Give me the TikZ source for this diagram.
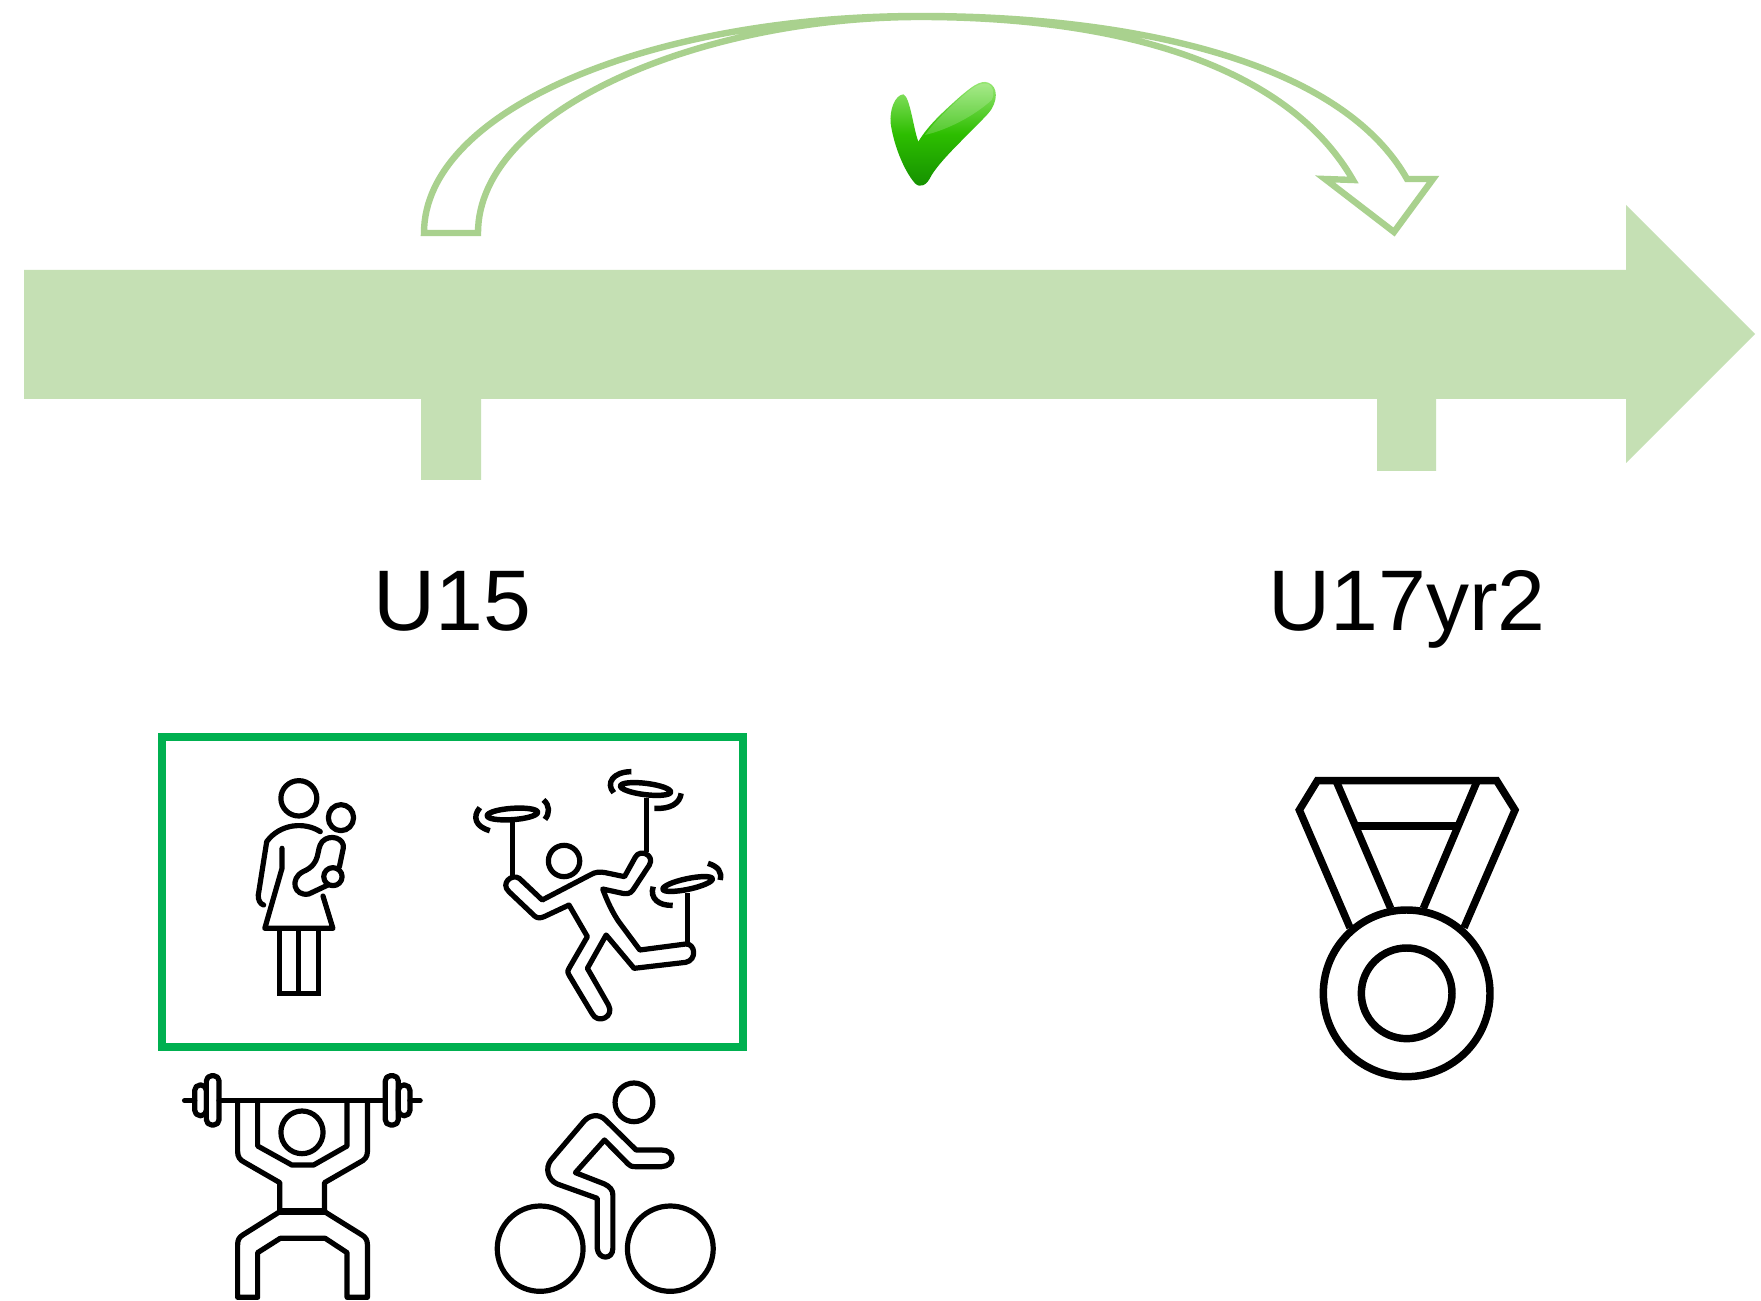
\documentclass[tikz,border=0pt]{standalone}
\usepackage{fontspec}
\setmainfont{Liberation Sans}
\definecolor{barfill}{HTML}{C5E0B4}
\definecolor{arcline}{HTML}{A9D18E}
\definecolor{boxgreen}{HTML}{00B050}
\definecolor{chktop}{HTML}{9BE878}
\definecolor{chkmid}{HTML}{2DBE00}
\definecolor{chkbot}{HTML}{148F00}
\tikzset{
  bar/.style={fill=barfill,draw=none},
  arcarrow/.style={draw=arcline,line width=4.8pt,fill=white,line join=miter},
  label/.style={anchor=base,inner sep=0pt,font=\fontsize{64.5}{70}\selectfont},
  framebox/.style={draw=boxgreen,line width=6pt},
  icon/.style={draw=black,line width=3.9pt,line join=round,line cap=round,fill=none},
  medal/.style={draw=black,line width=5.6pt,line join=miter,fill=none},
  plate/.style={icon,line width=4.1pt}
}
\begin{document}
\begin{tikzpicture}[x=0.75pt,y=-0.75pt]
\useasboundingbox (0,0) rectangle (1761,1301);
\fill[white] (0,0) rectangle (1761,1301);

% timeline arrow with ticks
\path[bar] (24,270) -- (421,270) -- (1626,270) -- (1626,205) -- (1755,334) -- (1626,463) -- (1626,399)
  -- (1436,399) -- (1436,471) -- (1377,471) -- (1377,399)
  -- (481,399) -- (481,480) -- (421,480) -- (421,399) -- (24,399) -- cycle;

% curved arrow
\path[arcarrow] (424,233)
  .. controls (424,110) and (650,16) .. (920,16)
  .. controls (1130,16) and (1340,60) .. (1407,179)
  -- (1433,179) -- (1394,232) -- (1325,179) -- (1353,180)
  .. controls (1290,70) and (1130,17) .. (920,17)
  .. controls (700,17) and (478,110) .. (478,233)
  -- cycle;

% check mark
\begin{scope}[shift={(860,60)},x=0.25pt,y=-0.25pt]
\path[top color=chktop,bottom color=chkbot,middle color=chkmid]
  (130,103) .. controls (105,105) and (88,150) .. (92,190)
  .. controls (100,250) and (130,330) .. (165,370)
  .. controls (180,385) and (200,378) .. (215,345)
  .. controls (250,290) and (330,220) .. (385,160)
  .. controls (415,125) and (415,80) .. (385,68)
  .. controls (360,58) and (330,85) .. (300,110)
  .. controls (250,155) and (205,195) .. (175,245)
  .. controls (160,205) and (150,110) .. (130,103) -- cycle;
\path[fill=white,fill opacity=0.18]
  (385,72) .. controls (355,65) and (330,90) .. (300,115)
  .. controls (255,155) and (220,190) .. (195,225)
  .. controls (260,210) and (340,170) .. (395,120)
  .. controls (405,100) and (400,80) .. (385,72) -- cycle;
\end{scope}

% labels
\node[label] (u15) at (452,631) {U15};
\node[label] (u17) at (1407,631) {U17yr2};

% green frame
\draw[framebox] (161.5,736.5) rectangle (743,1046.5);

% mother and juggler
\begin{scope}[shift={(150,720)},x=0.287pt,y=-0.25pt]
% mother
\draw[icon] (389,235) ellipse [x radius=47,y radius=53];
\draw[icon] (499,293) ellipse [x radius=33,y radius=39];
\draw[icon] (445,335) .. controls (405,305) and (340,310) .. (305,365) -- (283,525) .. controls (282,540) and (288,552) .. (297,555);
\draw[icon] (345,385) -- (345,445) -- (300,625) -- (478,625) -- (452,528);
\draw[icon,line cap=butt,line join=miter] (338,625) -- (338,820) -- (440,820) -- (440,625);
\draw[icon,line cap=butt] (389,625) -- (389,820);
\draw[icon] (495,440) -- (505,385) .. controls (510,355) and (470,340) .. (450,365)
  .. controls (432,390) and (450,430) .. (400,455)
  .. controls (365,475) and (375,530) .. (415,522) -- (465,495);
\draw[icon] (478,470) ellipse [x radius=24,y radius=27];
% juggler plates
\draw[plate,rotate around={4:(947,282)}] (947,282) ellipse [x radius=66,y radius=17];
\draw[plate,rotate around={-7:(1295,207)}] (1295,207) ellipse [x radius=66,y radius=17];
\draw[plate,rotate around={12:(1405,492)}] (1405,492) ellipse [x radius=66,y radius=16];
\draw[plate,line cap=butt] (888,332) .. controls (850,320) and (842,290) .. (862,263);
\draw[plate,line cap=butt] (1028,240) .. controls (1045,255) and (1045,280) .. (1032,298);
\draw[plate,line cap=butt] (1258,155) .. controls (1210,155) and (1190,190) .. (1212,218);
\draw[plate,line cap=butt] (1388,220) .. controls (1385,250) and (1360,268) .. (1318,265);
\draw[plate,line cap=butt] (1315,500) .. controls (1305,535) and (1330,558) .. (1366,556);
\draw[plate,line cap=butt] (1458,430) .. controls (1485,440) and (1495,455) .. (1490,480);
\draw[plate,line cap=butt] (947,305) -- (947,470);
\draw[plate,line cap=butt] (1298,235) -- (1298,395);
\draw[plate,line cap=butt] (1405,520) -- (1405,668);
\draw[icon] (1082,423) ellipse [x radius=41,y radius=47];
\draw[icon] (965,475) -- (1025,540) -- (1150,465) .. controls (1165,455) and (1175,455) .. (1190,458)
  -- (1240,470) -- (1268,412) .. controls (1280,385) and (1320,405) .. (1305,435)
  -- (1262,510) .. controls (1255,522) and (1245,522) .. (1235,520) -- (1183,507)
  .. controls (1195,545) and (1210,580) .. (1225,605) -- (1280,690) -- (1400,672)
  .. controls (1425,670) and (1430,720) .. (1400,727) -- (1265,745) -- (1192,645) -- (1143,745) -- (1198,855)
  .. controls (1215,890) and (1170,915) .. (1155,880) -- (1095,765) .. controls (1090,755) and (1092,750) .. (1095,745)
  -- (1143,650) -- (1095,555) -- (1030,590) .. controls (1020,595) and (1012,595) .. (1005,588)
  -- (938,515) .. controls (915,490) and (945,460) .. (965,475) -- cycle;
\end{scope}

% weightlifter and cyclist
\begin{scope}[shift={(170,1060)},x=0.2727pt,y=-0.25pt]
\draw[icon] (40,122) -- (68,122);
\draw[icon] (135,122) -- (592,122);
\draw[icon] (660,122) -- (688,122);
\draw[icon,rounded corners=4pt] (100,47) rectangle (135,195);
\draw[icon,rounded corners=4pt] (68,75) rectangle (100,167);
\draw[icon,rounded corners=4pt] (592,47) rectangle (628,195);
\draw[icon,rounded corners=4pt] (628,75) rectangle (660,167);
\draw[icon] (186,122) -- (186,275) .. controls (186,290) and (192,300) .. (205,307) -- (302,368) -- (302,455)
  -- (200,525) .. controls (190,532) and (186,540) .. (186,555) -- (186,712) -- (241,712) -- (241,578) -- (303,535)
  -- (427,535) -- (487,578) -- (487,712) -- (543,712) -- (543,555) .. controls (543,540) and (538,532) .. (528,525)
  -- (425,455) -- (425,368) -- (522,307) .. controls (536,300) and (543,290) .. (543,275) -- (543,122);
\draw[icon] (241,122) -- (241,258) -- (335,315) -- (395,315) -- (487,258) -- (487,122);
\draw[icon,line width=4.8pt] (302,455) -- (425,455);
\draw[icon] (363,217) ellipse [x radius=58,y radius=64];
% cyclist
\draw[icon] (1276,127) ellipse [x radius=52,y radius=58];
\draw[icon] (1018,566) ellipse [x radius=118,y radius=128];
\draw[icon] (1376,566) ellipse [x radius=118,y radius=128];
\draw[icon] (1195,240) -- (1260,312) .. controls (1265,318) and (1270,320) .. (1280,320) -- (1352,320)
  .. controls (1390,318) and (1390,270) .. (1352,270) -- (1282,270) -- (1198,180)
  .. controls (1180,160) and (1155,165) .. (1140,182) -- (1048,300)
  .. controls (1030,325) and (1040,360) .. (1065,372) -- (1175,415) -- (1175,565)
  .. controls (1178,600) and (1218,600) .. (1218,565) -- (1218,405)
  .. controls (1218,390) and (1210,380) .. (1195,372) -- (1115,338) -- cycle;
\end{scope}

% medal
\begin{scope}[shift={(1270,760)},x=0.25pt,y=-0.25pt]
\draw[medal] (240,503) -- (88,150) -- (142,62) -- (680,62) -- (735,150) -- (582,503);
\draw[medal] (198,62) -- (362,445);
\draw[medal] (622,62) -- (460,445);
\draw[medal] (262,198) -- (560,198);
\draw[medal] (410,700) circle [radius=250];
\draw[medal] (410,700) circle [radius=136];
\end{scope}
\end{tikzpicture}
\end{document}
